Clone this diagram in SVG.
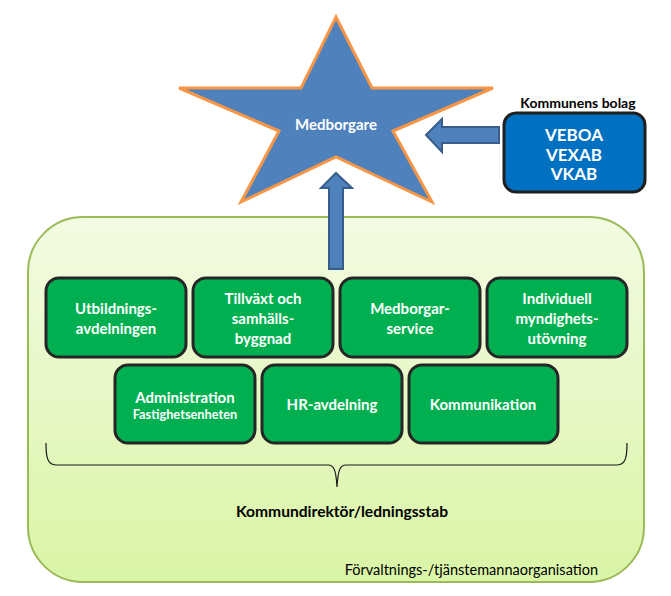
<svg xmlns="http://www.w3.org/2000/svg" width="671" height="596" viewBox="0 0 671 596">
<defs>
<linearGradient id="bg" x1="0" y1="0" x2="0" y2="1">
<stop offset="0" stop-color="#F3FBE3"/>
<stop offset="1" stop-color="#D9F5A6"/>
</linearGradient>
<style>
.unit rect{fill:#00B050;stroke:#262626;stroke-width:3}
.unit text,.wt{fill:#fff;font-family:Lato,"Open Sans",sans-serif;font-weight:bold;font-size:15px;text-anchor:middle;dominant-baseline:central}
.co .wt{font-size:17px}
.unit text.small{font-size:12.8px}
.arrow{fill:#4F81BD;stroke:#385D8A;stroke-width:2}
.blk{fill:#000;font-family:Lato,"Open Sans",sans-serif}
</style>
</defs>
<rect width="671" height="596" fill="#fff"/>
<g id="container">
<rect x="28" y="217" width="616" height="365" rx="55" ry="55" fill="url(#bg)" stroke="#9BBB59" stroke-width="2"/>
<text class="blk" x="598" y="575" font-size="14.5" text-anchor="end">Förvaltnings-/tjänstemannaorganisation</text>
</g>
<g id="star">
<polygon points="336,17 372,88 493,88 393,131 432,202 336,157 241,202 279,131 179,88 301,88" fill="#4F81BD" stroke="#F79646" stroke-width="3" stroke-linejoin="miter"/>
<text class="wt" x="336" y="124">Medborgare</text>
</g>
<g id="bolag" class="co">
<text class="blk" x="578" y="108" font-size="14" font-weight="bold" text-anchor="middle">Kommunens bolag</text>
<rect x="504" y="113" width="141" height="79" rx="12" fill="#0070C0" stroke="#1F1F1F" stroke-width="3"/>
<text class="wt" x="574" y="134">VEBOA</text>
<text class="wt" x="574" y="154">VEXAB</text>
<text class="wt" x="574" y="173">VKAB</text>
</g>
<g id="connectors">
<polygon class="arrow" points="336,173 352,188 343,188 343,269 329,269 329,188 321,188"/>
<polygon class="arrow" points="426,135 442,119 442,127 499,127 499,143 442,143 442,152"/>
<path d="M46,443 C46,456 47,465 56,465 L328,465 C334,465 336,470 337,487 C338,470 340,465 346,465 L617,465 C626,465 627,456 627,443" fill="none" stroke="#1a1a1a" stroke-width="1.2"/>
</g>
<g id="utbildning" class="unit">
<rect x="46" y="278" width="140" height="79" rx="13"/>
<text x="116" y="308">Utbildnings-</text>
<text x="116" y="328">avdelningen</text>
</g>
<g id="tillvaxt" class="unit">
<rect x="193" y="278" width="140" height="79" rx="13"/>
<text x="263" y="298">Tillväxt  och</text>
<text x="263" y="318">samhälls-</text>
<text x="263" y="338">byggnad</text>
</g>
<g id="medborgarservice" class="unit">
<rect x="340" y="278" width="140" height="79" rx="13"/>
<text x="410" y="308">Medborgar-</text>
<text x="410" y="328">service</text>
</g>
<g id="individuell" class="unit">
<rect x="487" y="278" width="140" height="79" rx="13"/>
<text x="557" y="298">Individuell</text>
<text x="557" y="318">myndighets-</text>
<text x="557" y="338">utövning</text>
</g>
<g id="administration" class="unit">
<rect x="115" y="365" width="140" height="78" rx="13"/>
<text x="185" y="397">Administration</text>
<text class="small" x="185" y="414">Fastighetsenheten</text>
</g>
<g id="hr" class="unit">
<rect x="262" y="365" width="140" height="78" rx="13"/>
<text x="332" y="404">HR-avdelning</text>
</g>
<g id="kommunikation" class="unit">
<rect x="409" y="365" width="149" height="78" rx="13"/>
<text x="483" y="404">Kommunikation</text>
</g>
<g id="kommundirektor">
<text class="blk" x="342" y="517" font-size="15.6" font-weight="bold" text-anchor="middle">Kommundirektör/ledningsstab</text>
</g>
</svg>
